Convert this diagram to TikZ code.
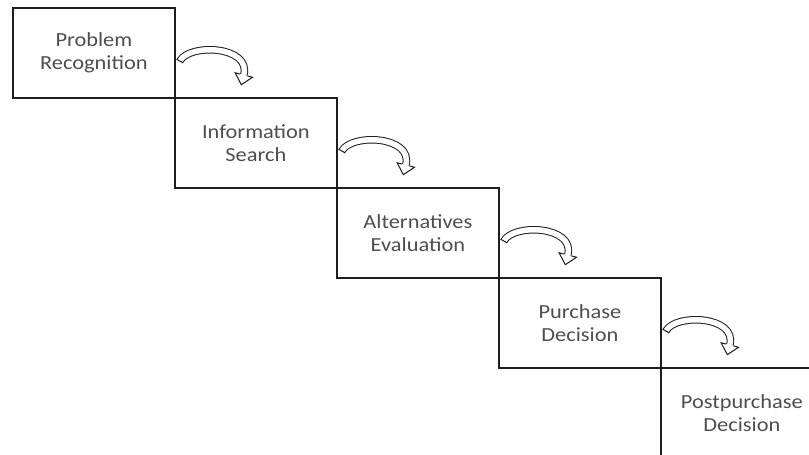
\documentclass[tikz,border=0pt]{standalone}
\usepackage{fontspec}
\setmainfont{Carlito}[FakeStretch=1.12]
\usetikzlibrary{calc}
\definecolor{txt}{RGB}{78,78,78}
\definecolor{edge}{RGB}{30,30,30}
\begin{document}
\begin{tikzpicture}[x=1pt,y=-1pt,
  stage/.style={draw=edge, line width=1.8pt, rectangle, minimum width=162pt, minimum height=90pt,
    anchor=north west, align=center, text=txt, font=\fontsize{20}{23}\selectfont, inner sep=0pt},
  flow/.pic={
    \draw[draw=edge, line width=1pt, double=white, double distance=5.5pt] (4,54) .. controls (14,36) and (75.5,38.9) .. (68,68);
    \draw[draw=edge, line width=1pt] (7.3,55.8) -- (0.7,52.2);
    \fill[white] (59.3,65.75) -- (65.5,77.7) -- (76.7,70.25) -- cycle;
    \draw[draw=edge, line width=1pt, line join=miter] (64.4,67.1) -- (59.3,65.75) -- (65.5,77.7) -- (76.7,70.25) -- (71.6,68.9);
  }]
\useasboundingbox (0,0) rectangle (809,455);
\clip (0,0) rectangle (809,455);
\fill[white] (0,0) rectangle (809,455);
\node[stage] (b1) at (12,7)   {Problem\\Recognition};
\node[stage] (b2) at (174,97) {Information\\Search};
\node[stage] (b3) at (336,187) {Alternatives\\Evaluation};
\node[stage] (b4) at (498,277) {Purchase\\Decision};
\node[stage] (b5) at (660,367) {Postpurchase\\Decision};
\pic at (b1.north east) {flow};
\pic at (b2.north east) {flow};
\pic at (b3.north east) {flow};
\pic at (b4.north east) {flow};
\end{tikzpicture}
\end{document}
